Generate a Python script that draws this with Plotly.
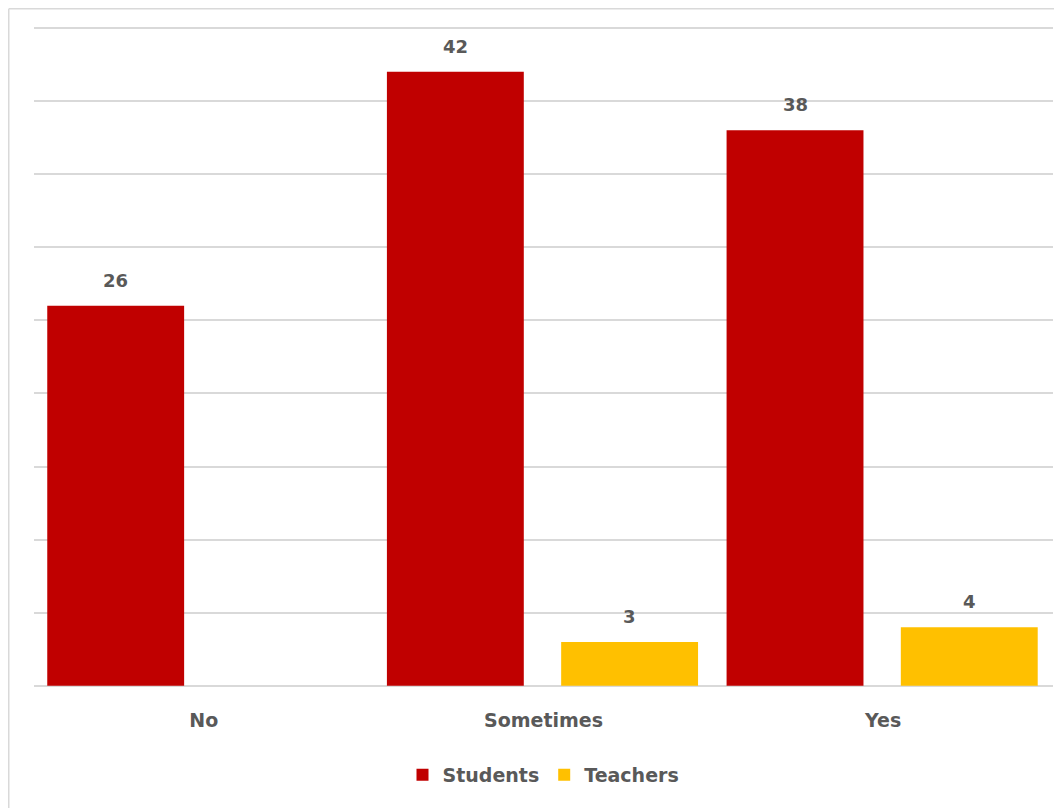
import plotly.graph_objects as go

categories = ["No", "Sometimes", "Yes"]
students = [26, 42, 38]
teachers = [None, 3, 4]
series_names = ["Students", "Teachers"]
series_colors = ["#C00000", "#FFC000"]
grid_vals = [0, 5, 10, 15, 20, 25, 30, 35, 40, 45]

# page body adds 8px margin; figure sized to fill the visible window
W, H = 1054, 800
ML, MR, MT, MB = 26, 9, 17, 120
pw = W - ML - MR
ph = H - MT - MB
y_lo, y_hi = -0.15, 45.2

bar_w = 0.403
offsets = [-0.461, 0.052]
font_fam = "DejaVu Sans, Verdana, sans-serif"
txt_col = "#595959"


def fig_y_to_paper(fy):
    return (H - MB - fy) / ph


fig = go.Figure()
ann = []
for name, vals, col, off in zip(series_names, [students, teachers], series_colors, offsets):
    fig.add_trace(go.Bar(
        x=list(range(len(categories))), y=vals, name=name,
        marker=dict(color=col, line=dict(width=0)),
        width=bar_w, offset=off, base=0,
    ))
    for i, v in enumerate(vals):
        if v is None:
            continue
        ann.append(dict(x=i + off + bar_w / 2, y=v, xref="x", yref="y",
                        text=str(v), showarrow=False, yanchor="bottom", yshift=13,
                        font=dict(family=font_fam, size=18, color=txt_col, weight="bold")))

top_y = fig_y_to_paper(0.75)
shapes = [
    dict(type="line", xref="paper", yref="paper",
         x0=(0.75 - ML) / pw, x1=(W + 5 - ML) / pw, y0=top_y, y1=top_y,
         line=dict(color="#D9D9D9", width=1.5)),
    dict(type="line", xref="paper", yref="paper",
         x0=(0.75 - ML) / pw, x1=(0.75 - ML) / pw, y0=top_y, y1=fig_y_to_paper(H + 5),
         line=dict(color="#D9D9D9", width=1.5)),
]

fig.update_layout(
    width=W, height=H,
    margin=dict(l=ML, r=MR, t=MT, b=MB, autoexpand=False),
    paper_bgcolor="white", plot_bgcolor="white",
    barmode="overlay",
    font=dict(family=font_fam, color=txt_col),
    xaxis=dict(tickmode="array", tickvals=list(range(len(categories))), ticktext=categories,
               range=[-0.5, 2.5], showgrid=False, zeroline=False, showline=False,
               ticks="", ticklabelstandoff=19,
               tickfont=dict(family=font_fam, size=19, color=txt_col, weight="bold")),
    yaxis=dict(range=[y_lo, y_hi], tickmode="array", tickvals=grid_vals,
               showgrid=True, gridcolor="#D9D9D9", gridwidth=1.5,
               showticklabels=False, zeroline=False, showline=False, ticks=""),
    legend=dict(orientation="h", x=0.5, xanchor="center", y=fig_y_to_paper(767), yanchor="middle",
                font=dict(family=font_fam, size=19, color=txt_col, weight="bold"),
                itemwidth=30, traceorder="normal"),
    annotations=ann,
    shapes=shapes,
    showlegend=True,
)

fig.write_html("out.html")
